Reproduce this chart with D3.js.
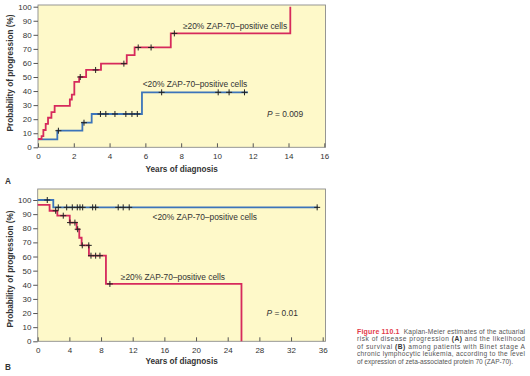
<!DOCTYPE html>
<html>
<head>
<meta charset="utf-8">
<script src="https://cdn.jsdelivr.net/npm/d3@7"></script>
<style>
body { margin: 0; background: #fff; }
svg { font-family: "Liberation Sans", Arial, sans-serif; }
.tick text { fill: #333; font-size: 8px; }
.tick line { stroke: #555; }
.domain { display: none; }
.axis-title { font-weight: bold; font-size: 8.2px; fill: #333; }
.series-label { font-size: 8.4px; fill: #333; }
.km { fill: none; stroke-width: 1.8; }
.censor { stroke: #222; stroke-width: 1; }
.caption { font-size: 6.6px; fill: #555; }
</style>
</head>
<body>
<div id="chart"></div>
<script>
// panel A: risk of progression, years -> %
const aHighSteps = [[0,5.9],[0.2,8],[0.3,12.3],[0.43,16.6],[0.56,21],[0.75,25],[0.93,29.4],[1.78,34],[1.89,37.5],[2.03,46.5],[2.3,50],[2.69,55],[3.52,59.5],[4.96,65.5],[5.4,71],[7.42,81],[14.1,100]]
const aHighCensor = [[2.36,50],[3.22,55],[4.8,59.5],[5.6,71],[6.32,71],[7.62,81]]
const aLowSteps = [[0,5.7],[1.08,11.8],[2.48,17.5],[3.0,23.7],[5.81,39.1],[11.73,39.1]]
const aLowCensor = [[1.14,11.8],[2.57,17.5],[3.49,23.7],[3.79,23.7],[4.3,23.7],[4.91,23.7],[5.25,23.7],[5.55,23.7],[6.91,39.1],[10.07,39.1],[10.68,39.1],[11.54,39.1]]

// panel B: survival
const bHighSteps = [[0,96.6],[1.5,92.4],[2.48,88.9],[4.05,84],[4.92,79.3],[5.25,73.3],[5.55,67.9],[6.47,60.6],[8.62,40.6],[25.74,0]]
const bHighCensor = [[2.27,92.4],[3.23,88.9],[4.08,84],[4.7,84],[5.05,79.3],[5.63,67.9],[6.45,67.9],[6.73,60.6],[7.32,60.6],[7.86,60.6],[9.12,40.6]]
const bLowSteps = [[0,100],[1.97,94.8],[35.4,94.8]]
const bLowCensor = [[1.21,100],[2.6,94.8],[3.66,94.8],[4.37,94.8],[5.0,94.8],[5.34,94.8],[5.68,94.8],[6.94,94.8],[7.32,94.8],[10.17,94.8],[10.8,94.8],[11.56,94.8],[35.3,94.8]]

const yTicks = [0,10,20,30,40,50,60,70,80,90,100]
const aXTicks = [0,2,4,6,8,10,12,14,16]
const bXTicks = [0,4,8,12,16,20,24,28,32,36]

const captionLines = [
	[['Figure 110.1', 'fig'], ['  Kaplan-Meier estimates of the actuarial', '']],
	[['risk of disease progression ', ''], ['(A)', 'b'], [' and the likelihood', '']],
	[['of survival ', ''], ['(B)', 'b'], [' among patients with Binet stage A', '']],
	[['chronic lymphocytic leukemia, according to the level', '']],
	[['of expression of zeta-associated protein 70 (ZAP-70).', '']]
]

const width = 530
const height = 376
const red = '#d62a5c'
const blue = '#3c74ba'

let svg = d3.select('#chart').append('svg')
.attr('width', width)
.attr('height', height)

const drawPanel = (cfg) => {

	let g = svg.append('g')

	let xScale = d3.scaleLinear().domain(cfg.xDomain).range(cfg.xRange)
	let yScale = d3.scaleLinear().domain([0,100]).range(cfg.yRange)

	g.append('rect')
	.attr('x', cfg.xRange[0])
	.attr('y', cfg.boxTop)
	.attr('width', cfg.boxRight - cfg.xRange[0])
	.attr('height', cfg.yRange[0] - cfg.boxTop)
	.attr('fill', '#fef9c9')
	.attr('stroke', '#8c8c8c')
	.attr('stroke-width', 0.9)

	g.append('g')
	.attr('transform', `translate(${cfg.xRange[0]},0)`)
	.call(d3.axisLeft(yScale).tickValues(yTicks).tickSize(4.5).tickPadding(1.8))

	g.append('g')
	.attr('transform', `translate(0,${cfg.yRange[0]})`)
	.call(d3.axisBottom(xScale).tickValues(cfg.xTicks).tickSizeInner(-4).tickSizeOuter(0).tickPadding(6))

	const line = d3.line()
	.curve(d3.curveStepAfter)
	.x(d => xScale(d[0]))
	.y(d => yScale(d[1]))

	cfg.series.forEach(s => {

		g.append('path')
		.datum(s.steps)
		.attr('class', 'km')
		.attr('stroke', s.color)
		.attr('d', line)

	})

	cfg.series.forEach(s => {

		g.append('g')
		.selectAll('path')
		.data(s.censor)
		.join('path')
		.attr('class', 'censor')
		.attr('d', d => {
			let cx = xScale(d[0]), cy = yScale(d[1])
			return `M${cx-3},${cy}H${cx+3}M${cx},${cy-3}V${cy+3}`
		})

	})

	cfg.labels.forEach(l => {

		g.append('text')
		.attr('class', 'series-label')
		.attr('x', xScale(l.x))
		.attr('y', yScale(l.y))
		.text(l.text)

	})

	let p = g.append('text')
	.attr('class', 'series-label')
	.attr('x', xScale(cfg.pLabel.x))
	.attr('y', yScale(cfg.pLabel.y))
	p.append('tspan').attr('font-style', 'italic').text('P')
	p.append('tspan').text(' = ' + cfg.pLabel.text)

	g.append('text')
	.attr('class', 'axis-title')
	.attr('text-anchor', 'middle')
	.attr('x', (cfg.xRange[0] + cfg.boxRight) / 2)
	.attr('y', cfg.yRange[0] + cfg.xTitleGap)
	.text('Years of diagnosis')

	g.append('text')
	.attr('class', 'axis-title')
	.attr('text-anchor', 'middle')
	.attr('transform', `translate(13,${cfg.yTitleMid}) rotate(-90)`)
	.text('Probability of progression (%)')

	g.append('text')
	.attr('class', 'axis-title')
	.attr('font-size', '8.5px')
	.attr('x', 5)
	.attr('y', cfg.letterY)
	.text(cfg.letter)
}

drawPanel({
	xDomain: [0,16], xRange: [38,324.3], yRange: [147.3,6.7], boxTop: 5, boxRight: 325.5,
	xTicks: aXTicks, letter: 'A', letterY: 184, xTitleGap: 25, yTitleMid: 73,
	series: [
		{steps: aLowSteps, censor: aLowCensor, color: blue},
		{steps: aHighSteps, censor: aHighCensor, color: red}
	],
	labels: [
		{x: 8.1, y: 84, text: '\u226520% ZAP-70\u2013positive cells'},
		{x: 5.85, y: 43, text: '<20% ZAP-70\u2013positive cells'}
	],
	pLabel: {x: 12.8, y: 21.5, text: '0.009'}
})

drawPanel({
	xDomain: [0,36], xRange: [37.7,322.7], yRange: [341.3,200], boxTop: 189, boxRight: 325.5,
	xTicks: bXTicks, letter: 'B', letterY: 370, xTitleGap: 23, yTitleMid: 269,
	series: [
		{steps: bLowSteps, censor: bLowCensor, color: blue},
		{steps: bHighSteps, censor: bHighCensor, color: red}
	],
	labels: [
		{x: 14.5, y: 86, text: '<20% ZAP-70\u2013positive cells'},
		{x: 10.5, y: 43.5, text: '\u226520% ZAP-70\u2013positive cells'}
	],
	pLabel: {x: 28.9, y: 17.8, text: '0.01'}
})

// caption, justified like the book layout
let cap = svg.append('g')

captionLines.forEach((parts, i) => {

	let t = cap.append('text')
	.attr('class', 'caption')
	.attr('x', 357)
	.attr('y', 334 + i * 7.4)
	.attr('xml:space', 'preserve')

	if (i < captionLines.length - 1) {
		t.attr('textLength', 168).attr('lengthAdjust', 'spacing')
	}

	parts.forEach(p => {
		let s = t.append('tspan').text(p[0])
		if (p[1] === 'fig') s.attr('fill', '#e23a4a').attr('font-weight', 'bold').attr('font-size', '7px')
		if (p[1] === 'b') s.attr('font-weight', 'bold').attr('fill', '#333')
	})

})
</script>
</body>
</html>
